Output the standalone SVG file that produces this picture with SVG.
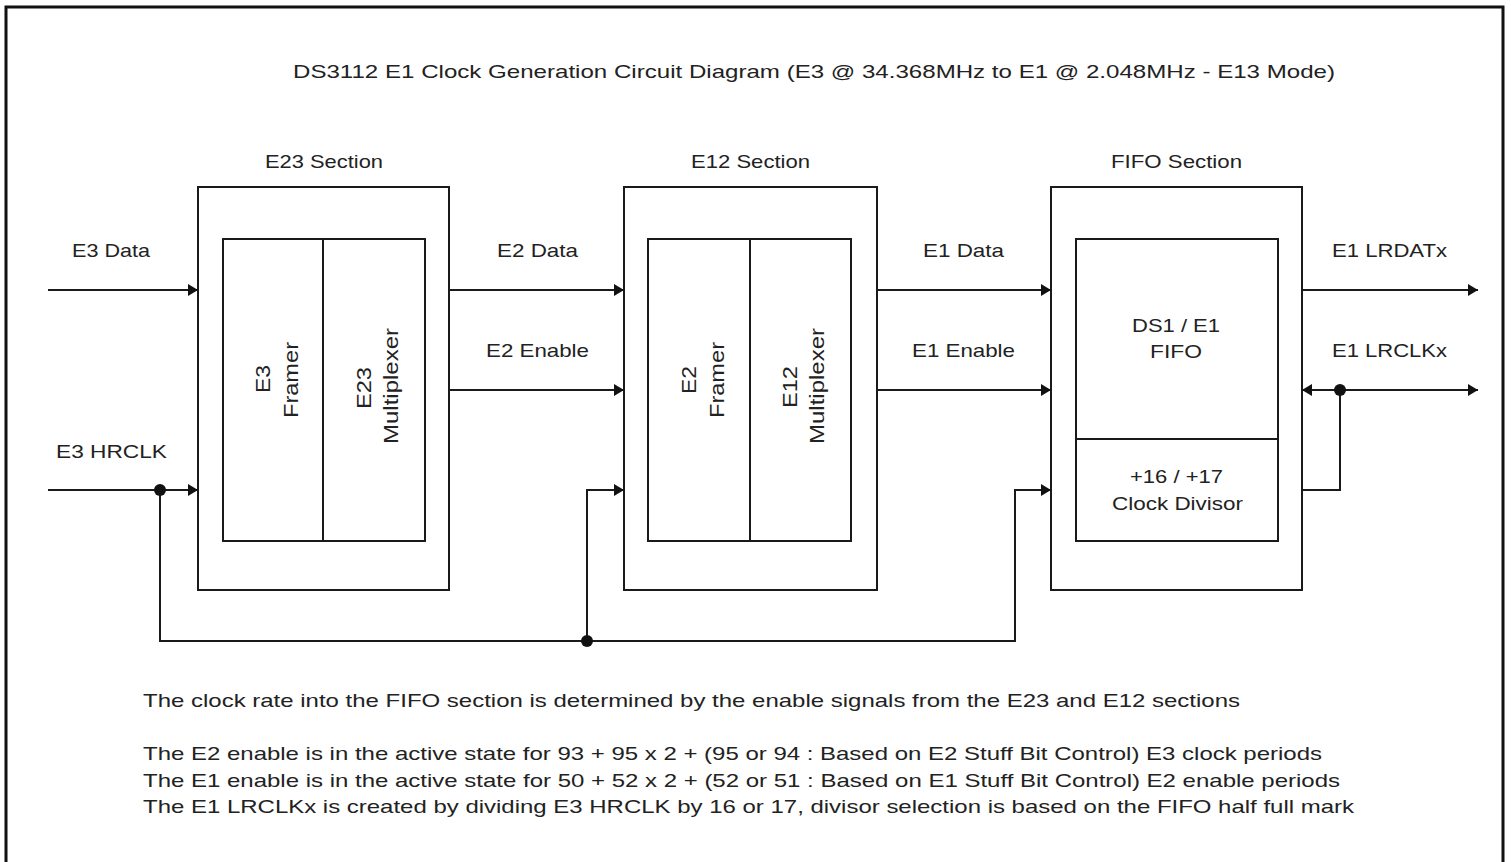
<svg xmlns="http://www.w3.org/2000/svg" width="1511" height="862" viewBox="0 0 1511 862">
<style>
text{font-family:"Liberation Sans",Arial,sans-serif;font-size:19px;fill:#222}
.rot{font-size:20px;text-anchor:middle}
.box{fill:#fff;stroke:#1a1a1a;stroke-width:2}
.ln{fill:none;stroke:#1a1a1a;stroke-width:2}
.dot{fill:#111}
</style>
<defs>
<marker id="ah" viewBox="0 0 10 12" refX="10" refY="6" markerWidth="10" markerHeight="12" markerUnits="userSpaceOnUse" orient="auto-start-reverse"><path d="M0,0 L10,6 L0,12 z" fill="#111"/></marker>
</defs>
<rect x="0" y="0" width="1511" height="862" fill="#fff"/>
<rect x="6" y="7" width="1497" height="870" fill="none" stroke="#111" stroke-width="3"/>
<text x="293" y="78" textLength="1042" lengthAdjust="spacingAndGlyphs">DS3112 E1 Clock Generation Circuit Diagram (E3 @ 34.368MHz to E1 @ 2.048MHz - E13 Mode)</text>

<g id="e23">
<text x="265" y="168" textLength="118" lengthAdjust="spacingAndGlyphs">E23 Section</text>
<rect class="box" x="198" y="187" width="251" height="403"/>
<rect class="box" x="223" y="239" width="202" height="302"/>
<line class="ln" x1="323" y1="239" x2="323" y2="541"/>
<text class="rot" transform="translate(270,379) rotate(-90)" textLength="28" lengthAdjust="spacingAndGlyphs">E3</text>
<text class="rot" transform="translate(298,380) rotate(-90)" textLength="76" lengthAdjust="spacingAndGlyphs">Framer</text>
<text class="rot" transform="translate(371,388) rotate(-90)" textLength="42" lengthAdjust="spacingAndGlyphs">E23</text>
<text class="rot" transform="translate(398,386) rotate(-90)" textLength="116" lengthAdjust="spacingAndGlyphs">Multiplexer</text>
</g>

<g id="e12">
<text x="691" y="168" textLength="119" lengthAdjust="spacingAndGlyphs">E12 Section</text>
<rect class="box" x="624" y="187" width="253" height="403"/>
<rect class="box" x="648" y="239" width="203" height="302"/>
<line class="ln" x1="750" y1="239" x2="750" y2="541"/>
<text class="rot" transform="translate(696,380) rotate(-90)" textLength="28" lengthAdjust="spacingAndGlyphs">E2</text>
<text class="rot" transform="translate(724,380) rotate(-90)" textLength="76" lengthAdjust="spacingAndGlyphs">Framer</text>
<text class="rot" transform="translate(797,387) rotate(-90)" textLength="42" lengthAdjust="spacingAndGlyphs">E12</text>
<text class="rot" transform="translate(824,386) rotate(-90)" textLength="116" lengthAdjust="spacingAndGlyphs">Multiplexer</text>
</g>

<g id="fifo">
<text x="1111" y="168" textLength="131" lengthAdjust="spacingAndGlyphs">FIFO Section</text>
<rect class="box" x="1051" y="187" width="251" height="403"/>
<rect class="box" x="1076" y="239" width="202" height="302"/>
<line class="ln" x1="1076" y1="439" x2="1278" y2="439"/>
<text x="1132" y="332" textLength="88" lengthAdjust="spacingAndGlyphs">DS1 / E1</text>
<text x="1150" y="358" textLength="52" lengthAdjust="spacingAndGlyphs">FIFO</text>
<text x="1130" y="483" textLength="93" lengthAdjust="spacingAndGlyphs">+16 / +17</text>
<text x="1112" y="510" textLength="131" lengthAdjust="spacingAndGlyphs">Clock Divisor</text>
</g>

<g id="connectors">
<path class="ln" d="M48,290 H198" marker-end="url(#ah)"/>
<path class="ln" d="M48,490 H198" marker-end="url(#ah)"/>
<path class="ln" d="M160,490 V641 H1015 V490 H1051" marker-end="url(#ah)"/>
<path class="ln" d="M587,641 V490 H624" marker-end="url(#ah)"/>
<path class="ln" d="M449,290 H624" marker-end="url(#ah)"/>
<path class="ln" d="M449,390 H624" marker-end="url(#ah)"/>
<path class="ln" d="M877,290 H1051" marker-end="url(#ah)"/>
<path class="ln" d="M877,390 H1051" marker-end="url(#ah)"/>
<path class="ln" d="M1302,290 H1478" marker-end="url(#ah)"/>
<path class="ln" d="M1302,390 H1478" marker-start="url(#ah)" marker-end="url(#ah)"/>
<path class="ln" d="M1340,390 V490 H1302"/>
<circle class="dot" cx="160" cy="490" r="6"/>
<circle class="dot" cx="587" cy="641" r="6"/>
<circle class="dot" cx="1340" cy="390" r="6"/>
</g>

<g id="labels">
<text x="72" y="257" textLength="78" lengthAdjust="spacingAndGlyphs">E3 Data</text>
<text x="56" y="458" textLength="111" lengthAdjust="spacingAndGlyphs">E3 HRCLK</text>
<text x="497" y="257" textLength="81" lengthAdjust="spacingAndGlyphs">E2 Data</text>
<text x="486" y="357" textLength="103" lengthAdjust="spacingAndGlyphs">E2 Enable</text>
<text x="923" y="257" textLength="81" lengthAdjust="spacingAndGlyphs">E1 Data</text>
<text x="912" y="357" textLength="103" lengthAdjust="spacingAndGlyphs">E1 Enable</text>
<text x="1332" y="257" textLength="115" lengthAdjust="spacingAndGlyphs">E1 LRDATx</text>
<text x="1332" y="357" textLength="115" lengthAdjust="spacingAndGlyphs">E1 LRCLKx</text>
</g>

<g id="notes">
<text x="143" y="707" textLength="1097" lengthAdjust="spacingAndGlyphs">The clock rate into the FIFO section is determined by the enable signals from the E23 and E12 sections</text>
<text x="143" y="760" textLength="1179" lengthAdjust="spacingAndGlyphs">The E2 enable is in the active state for 93 + 95 x 2 + (95 or 94 : Based on E2 Stuff Bit Control) E3 clock periods</text>
<text x="143" y="787" textLength="1197" lengthAdjust="spacingAndGlyphs">The E1 enable is in the active state for 50 + 52 x 2 + (52 or 51 : Based on E1 Stuff Bit Control) E2 enable periods</text>
<text x="143" y="813" textLength="1211" lengthAdjust="spacingAndGlyphs">The E1 LRCLKx is created by dividing E3 HRCLK by 16 or 17, divisor selection is based on the FIFO half full mark</text>
</g>
</svg>
